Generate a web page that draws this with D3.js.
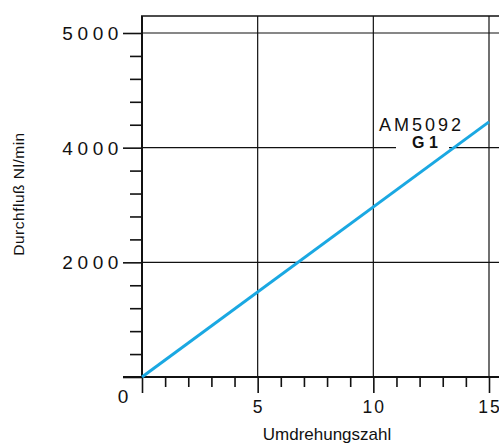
<!DOCTYPE html>
<html>
<head>
<meta charset="utf-8">
<script src="https://cdn.jsdelivr.net/npm/d3@7"></script>
<style>
  html, body { margin: 0; padding: 0; background: #fff; }
  svg { display: block; }
</style>
</head>
<body>
<svg id="svg"></svg>
<script>
// Data
const flowPoints = [
    { rev: 0, flow: 0 },
    { rev: 15, flow: 4450 }
]
const xMajorTicks = [0, 5, 10, 15]
const xMinorTicks = [1, 2, 3, 4, 6, 7, 8, 9, 11, 12, 13, 14]
const xTickLabels = ['', '5', '10', '15']
const yMajorTicks = [0, 2000, 4000, 6000]
const yMinorTicks = [400, 800, 1200, 1600, 2400, 2800, 3200, 3600, 4400, 4800, 5200, 5600]
const yTickLabels = ['0', '2000', '4000', '5000']
const seriesName = 'AM5092'
const seriesSub = 'G 1'

const width = 499
const height = 443
const font = 'Liberation Sans, Arial, Helvetica, sans-serif'
const ink = '#111'

const svg = d3.select('#svg').attr('width', width).attr('height', height)

const x = d3.scaleLinear().domain([0, 15]).range([142, 489])
const y = d3.scaleLinear().domain([0, 6000]).range([377, 33])
const plotTop = 16

// gridlines
svg.append('g').selectAll('line.v')
    .data(xMajorTicks.slice(1))
    .join('line')
    .attr('x1', d => x(d)).attr('x2', d => x(d))
    .attr('y1', plotTop).attr('y2', y(0))
    .attr('stroke', ink).attr('stroke-width', 1.2)

svg.append('g').selectAll('line.h')
    .data(yMajorTicks.slice(1))
    .join('line')
    .attr('x1', x(0)).attr('x2', width)
    .attr('y1', d => y(d)).attr('y2', d => y(d))
    .attr('stroke', ink).attr('stroke-width', 1.2)

// top border
svg.append('line')
    .attr('x1', x(0) - 1).attr('x2', width)
    .attr('y1', plotTop).attr('y2', plotTop)
    .attr('stroke', ink).attr('stroke-width', 1.5)

// y axis: minor + major ticks
svg.append('g')
    .attr('transform', `translate(${x(0)},0)`)
    .call(d3.axisLeft(y).tickValues(yMinorTicks).tickSize(12).tickFormat(''))
svg.append('g')
    .attr('transform', `translate(${x(0)},0)`)
    .call(d3.axisLeft(y).tickValues(yMajorTicks).tickSize(19).tickFormat(''))

// x axis: minor + major ticks
svg.append('g')
    .attr('transform', `translate(0,${y(0)})`)
    .call(d3.axisBottom(x).tickValues(xMinorTicks).tickSize(10).tickFormat(''))
svg.append('g')
    .attr('transform', `translate(0,${y(0)})`)
    .call(d3.axisBottom(x).tickValues(xMajorTicks).tickSize(16).tickFormat(''))

svg.selectAll('.domain').remove()
svg.selectAll('.tick line').attr('stroke', ink).attr('stroke-width', 1.6)

// axis lines
svg.append('line')
    .attr('x1', x(0)).attr('x2', x(0))
    .attr('y1', plotTop).attr('y2', y(0))
    .attr('stroke', ink).attr('stroke-width', 2)
svg.append('line')
    .attr('x1', x(0) - 19).attr('x2', width)
    .attr('y1', y(0)).attr('y2', y(0))
    .attr('stroke', ink).attr('stroke-width', 2.2)

// y tick labels
yMajorTicks.forEach((v, i) => {
    if (i == 0) {
        svg.append('text')
            .text(yTickLabels[i])
            .attr('font-family', font)
            .attr('font-size', 19)
            .attr('fill', ink)
            .attr('text-anchor', 'middle')
            .attr('x', x(0) - 19)
            .attr('y', y(0) + 26)
        return
    }
    svg.append('text')
        .text(yTickLabels[i])
        .attr('font-family', font)
        .attr('font-size', 19)
        .attr('letter-spacing', 4.6)
        .attr('fill', ink)
        .attr('text-anchor', 'end')
        .attr('x', x(0) - 19)
        .attr('y', y(v) + 7)
})

// x tick labels
xMajorTicks.forEach((v, i) => {
    if (!xTickLabels[i]) return
    svg.append('text')
        .text(xTickLabels[i])
        .attr('font-family', font)
        .attr('font-size', 17.5)
        .attr('letter-spacing', 2)
        .attr('fill', ink)
        .attr('text-anchor', 'middle')
        .attr('x', x(v) + 1)
        .attr('y', y(0) + 36)
})

// axis titles
svg.append('text')
    .text('Umdrehungszahl')
    .attr('font-family', font)
    .attr('font-size', 17)
    .attr('fill', ink)
    .attr('text-anchor', 'middle')
    .attr('x', 327)
    .attr('y', 440)

svg.append('text')
    .text('Durchfluß Nl/min')
    .attr('font-family', font)
    .attr('font-size', 15.5)
    .attr('letter-spacing', 0.5)
    .attr('fill', ink)
    .attr('text-anchor', 'middle')
    .attr('transform', 'translate(24,194) rotate(-90)')

// gap behind the series label
svg.append('rect')
    .attr('x', 396).attr('y', y(4000) - 3)
    .attr('width', 53).attr('height', 6)
    .attr('fill', '#fff')

// series line
svg.append('path')
    .datum(flowPoints)
    .attr('d', d3.line().x(d => x(d.rev)).y(d => y(d.flow)))
    .attr('fill', 'none')
    .attr('stroke', '#1aa8e2')
    .attr('stroke-width', 3)

// series label
svg.append('text')
    .text(seriesName)
    .attr('font-family', font)
    .attr('font-size', 18)
    .attr('letter-spacing', 3)
    .attr('fill', ink)
    .attr('x', 379)
    .attr('y', 131)

svg.append('text')
    .text(seriesSub)
    .attr('font-family', font)
    .attr('font-size', 16)
    .attr('font-weight', 'bold')
    .attr('fill', ink)
    .attr('text-anchor', 'middle')
    .attr('x', 425)
    .attr('y', 148)
</script>
</body>
</html>
